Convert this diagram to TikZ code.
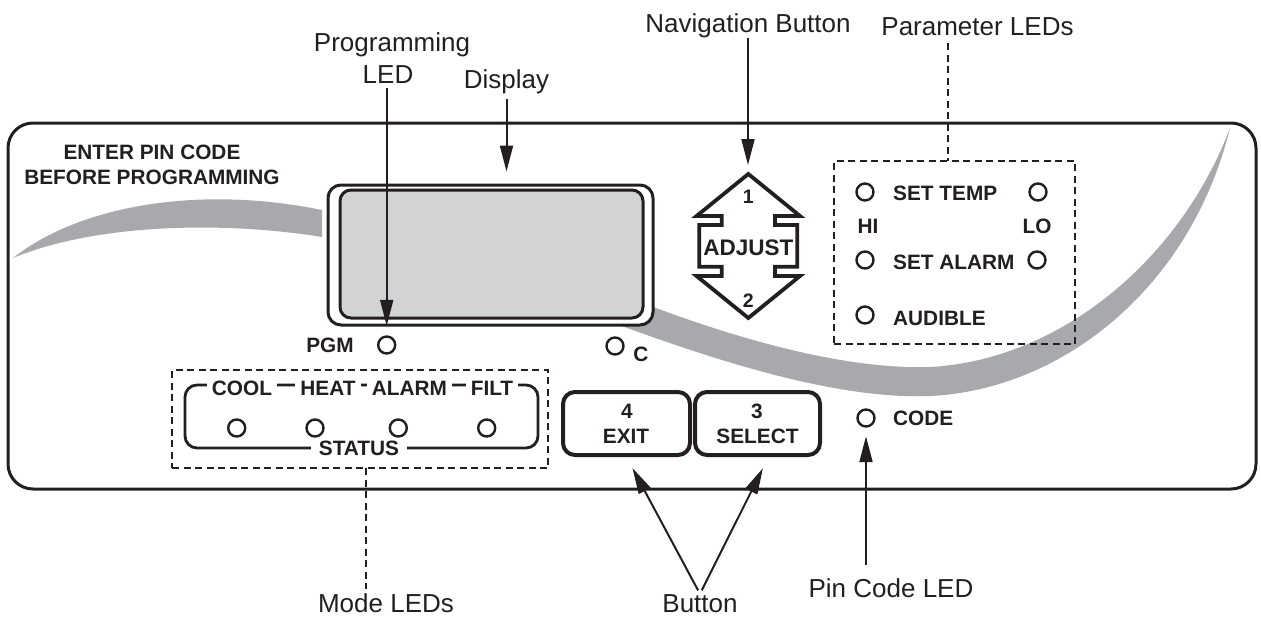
\documentclass[tikz,border=0pt]{standalone}
\usepackage{fontspec}
\setmainfont{Liberation Sans}
\usetikzlibrary{arrows.meta,calc}
\definecolor{ink}{HTML}{231F20}
\definecolor{swoosh}{HTML}{A7A9AC}
\definecolor{lcd}{HTML}{D1D3D4}
\newcommand\calloutfont{\fontsize{26}{30}\selectfont}
\newcommand\panelfont{\fontsize{20.8}{24}\selectfont\bfseries}
\newcommand\adjfont{\fontsize{22.5}{26}\selectfont\bfseries}
\newcommand\numfont{\fontsize{19.5}{22}\selectfont\bfseries}

\begin{document}
\begin{tikzpicture}[x=1pt,y=-1pt,
  callout/.style={font=\calloutfont, inner sep=0pt, anchor=base, text=ink},
  legend/.style={font=\panelfont, inner sep=0pt, anchor=base, text=ink},
  tag/.style={legend, fill=white, inner xsep=5pt, inner ysep=0.5pt},
  led/.style={circle, draw=ink, line width=2.4pt, minimum size=17pt, inner sep=0pt},
  pointer/.style={draw=ink, line width=2pt, -{Triangle[length=26pt,width=13pt]}},
  leader/.style={draw=ink, line width=2.4pt, dash pattern=on 7pt off 4.5pt},
  dashbox/.style={leader, inner sep=0pt},
  keybox/.style={draw=ink, line width=4pt, rounded corners=12pt, inner sep=0pt,
                 minimum height=63pt},
]
\useasboundingbox (0,0) rectangle (1261,616);
\fill[white] (0,0) rectangle (1261,616);

% front panel outline
\node[draw=ink, line width=3pt, rounded corners=25pt, minimum width=1248pt,
      minimum height=366pt, inner sep=0pt] (panel) at (632,306) {};

% decorative grey swooshes
\fill[swoosh] (13,258) .. controls (80,205) and (200,185) .. (322,210)
  -- (322,237) .. controls (230,222) and (100,222) .. (13,258) -- cycle;
\fill[swoosh] (600,318) .. controls (700,355) and (830,400) .. (930,396)
  .. controls (1060,390) and (1190,290) .. (1230,128)
  .. controls (1180,260) and (1060,360) .. (930,367)
  .. controls (840,370) and (720,335) .. (610,290) -- cycle;

% display window
\node[draw=ink, fill=white, line width=3pt, rounded corners=13pt, minimum width=325pt,
      minimum height=140pt, inner sep=0pt] (bezel) at (490.5,255) {};
\node[draw=ink, fill=lcd, line width=3pt, rounded corners=11pt, minimum width=303pt,
      minimum height=128pt, inner sep=0pt] (lcdwin) at (491.5,254) {};

% warning text
\node[legend] (enter) at (152,159) {ENTER PIN CODE};
\node[legend] (before) at (152,184) {BEFORE PROGRAMMING};

% PGM and C indicators
\node[led] (pgmled) at (386.7,345) {};
\node[legend] (pgm) at (330,352) {PGM};
\node[led] (cled) at (615,346) {};
\node[legend] (ctext) at (641,361) {C};

% ADJUST double arrow key
\draw[ink, line width=3.8pt, line join=miter]
  (748.3,174) -- (800,216) -- (775,216) -- (775,225) -- (797.3,225) -- (797.3,266.7)
  -- (775,266.7) -- (775,276) -- (800,276) -- (748.3,318) -- (696.6,276) -- (721.7,276)
  -- (721.7,266.7) -- (699.3,266.7) -- (699.3,225) -- (721.7,225) -- (721.7,216)
  -- (696.6,216) -- cycle;
\coordinate (adjtop) at (748.3,172);
\node[legend, font=\numfont] (one) at (748.3,203) {1};
\node[legend, font=\adjfont] (adjust) at (748.3,255) {ADJUST};
\node[legend, font=\numfont] (two) at (748.3,307) {2};

% parameter LED group
\node[dashbox, minimum width=241pt, minimum height=183pt] (parbox) at (954.5,252.5) {};
\coordinate (partap) at (948,161);
\node[led] (hitemp) at (865,192) {};
\node[led] (lotemp) at (1038,192) {};
\node[led] (hialarm) at (865,260) {};
\node[led] (loalarm) at (1037,260) {};
\node[led] (audled) at (865,315) {};
\node[legend, anchor=base west] (settemp) at (893,200) {SET TEMP};
\node[legend] (hi) at (868,233) {HI};
\node[legend] (lo) at (1037,233) {LO};
\node[legend, anchor=base west] (setalarm) at (893,269) {SET ALARM};
\node[legend, anchor=base west] (audible) at (893,325) {AUDIBLE};

% status LED group
\node[dashbox, minimum width=376pt, minimum height=98pt] (statbox) at (360,419) {};
\coordinate (modetap) at (366,468);
\node[draw=ink, line width=2.8pt, rounded corners=12pt, minimum width=353pt,
      minimum height=63pt, inner sep=0pt] (bracket) at (361.5,416.5) {};
\node[tag] (cool) at (242,395) {COOL};
\node[tag] (heat) at (328,395) {HEAT};
\node[tag] (alarm) at (409.5,395) {ALARM};
\node[tag] (filt) at (492,395) {FILT};
\node[tag, inner xsep=8pt] (status) at (359,455) {STATUS};
\node[led] (coolled) at (236.7,428) {};
\node[led] (heatled) at (315,428) {};
\node[led] (alarmled) at (398.3,428) {};
\node[led] (filtled) at (486.7,428) {};

% keys
\node[keybox, minimum width=127pt] (exitbtn) at (626.5,423.5) {};
\node[keybox, minimum width=125pt] (selbtn) at (757.5,423.5) {};
\node[legend] (four) at (627,418) {4};
\node[legend] (exit) at (626,443) {EXIT};
\node[legend] (three) at (757,418) {3};
\node[legend] (select) at (757.5,443) {SELECT};

% pin code LED
\node[led] (codeled) at (866,418) {};
\node[legend, anchor=base west] (code) at (893,425) {CODE};

% callout labels
\node[callout] (proglbl) at (392,51) {Programming};
\node[callout] (progled) at (388,83) {LED};
\node[callout] (displbl) at (506.5,88) {Display};
\node[callout] (navlbl) at (748,32) {Navigation Button};
\node[callout] (parlbl) at (977.5,35) {Parameter LEDs};
\node[callout] (modelbl) at (386,612) {Mode LEDs};
\node[callout] (btnlbl) at (700,612) {Button};
\node[callout] (pinlbl) at (891,597) {Pin Code LED};

% callout connectors
\draw[pointer, shorten <=5pt, shorten >=9.5pt] (pgmled.north |- progled.south) -- (pgmled.north);
\draw[pointer, shorten <=5pt, shorten >=12pt] (displbl.south) -- (displbl.south |- bezel.north);
\draw[pointer, shorten >=7pt] (navlbl.south) -- (navlbl.south |- adjtop);
\draw[leader, line width=2.6pt, shorten <=8pt] (parlbl.south -| partap) -- (partap);
\draw[leader, shorten >=4pt] (modetap) -- (modetap |- modelbl.north);
\draw[pointer, shorten <=4pt, shorten >=12.5pt] (btnlbl.north) -- (exitbtn.south);
\draw[pointer, shorten <=4pt, shorten >=12.5pt] (btnlbl.north) -- ([xshift=11pt]selbtn.south);
\draw[pointer, shorten <=13pt, shorten >=8.5pt] (codeled.south |- pinlbl.north) -- (codeled.south);
\end{tikzpicture}
\end{document}
